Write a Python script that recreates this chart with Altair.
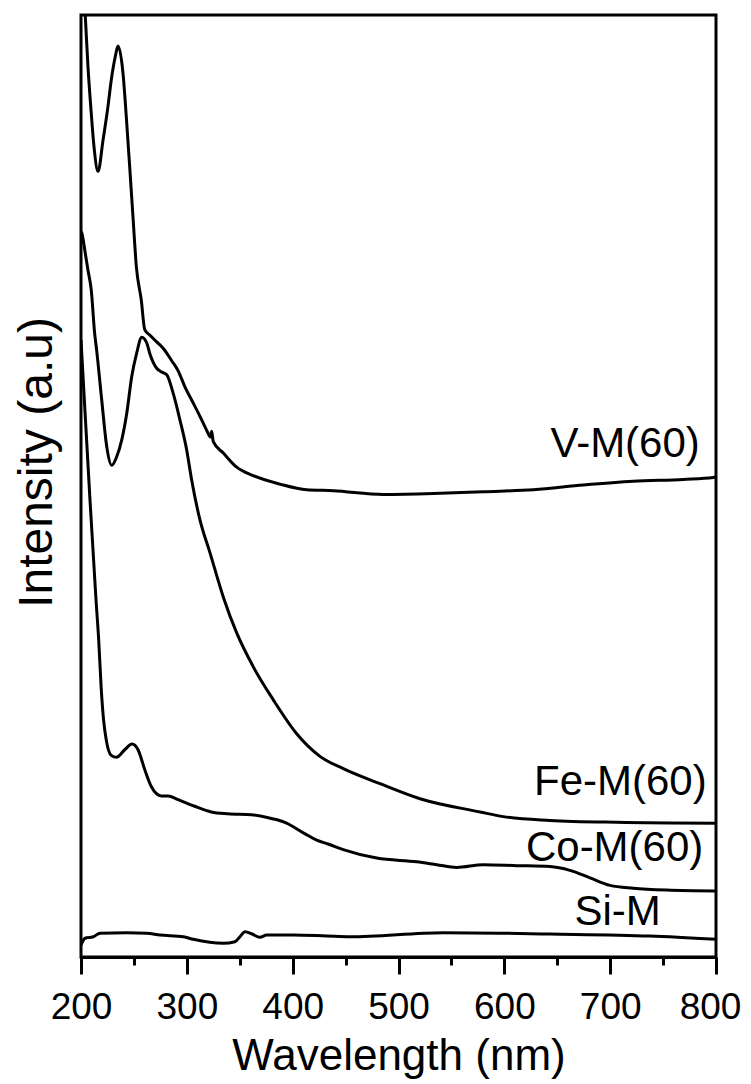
import altair as alt
import pandas as pd

# ---- data (wavelength nm, intensity a.u.) ----
v_x = [200, 204.1, 206.6, 209.2, 212.3, 216.1, 220.8, 225.5, 228.6, 232.4, 235.0, 239.7,
       242.8, 246.0, 249.1, 252.3, 257.0, 260.2, 265.2, 271.5, 277.8, 285.7, 291.9, 298.3,
       306.1, 312.4, 318.8, 322.4, 323.5, 325.0, 334.5, 347.1, 362.8, 388.0, 413.3, 438.4,
       485.6, 532.9, 580.1, 627.4, 674.6, 721.9, 769.1, 797.5, 800]
v_y = [108.3, 99.8, 94.5, 90.3, 86.0, 83.4, 86.7, 90.3, 93.1, 95.6, 96.7, 93.8,
       89.2, 83.9, 78.6, 73.3, 69.7, 66.6, 66.0, 65.3, 64.6, 63.3, 62.2, 60.5,
       58.8, 57.4, 55.9, 55.2, 55.8, 54.7, 53.5, 52.0, 51.1, 50.2, 49.6, 49.5,
       49.1, 49.2, 49.4, 49.6, 50.1, 50.5, 50.7, 50.9, 51.0]

fe_x = [200, 200.9, 203.5, 206.6, 209.7, 212.9, 214.8, 219.6, 224.3, 229.0, 233.7, 238.5,
        243.2, 247.9, 252.6, 257.4, 262.1, 264.9, 271.5, 276.2, 281.0, 287.2, 293.5, 299.9,
        304.6, 312.4, 321.9, 334.5, 347.1, 362.8, 381.7, 403.8, 425.8, 447.8, 482.5, 520.3,
        577.0, 599.0, 643.1, 706.2, 800]
fe_y = [77.0, 76.8, 75.1, 72.9, 70.8, 66.2, 64.4, 59.1, 54.2, 52.2, 53.1, 54.9,
        57.7, 61.6, 64.1, 65.8, 65.2, 64.1, 62.5, 62.1, 61.8, 59.8, 57.0, 53.8,
        50.6, 46.4, 42.9, 38.2, 34.4, 30.8, 27.3, 23.7, 21.3, 20.0, 18.4, 16.8,
        15.4, 14.9, 14.5, 14.3, 14.2]

co_x = [200, 200.7, 208.5, 214.2, 216.7, 219.2, 221.3, 223.9, 228.6, 233.4, 241.3, 248.2,
        253.9, 260.2, 266.4, 275.9, 282.2, 291.7, 307.4, 323.1, 338.9, 360.9, 379.8, 392.5,
        411.4, 422.7, 433.4, 447.8, 479.4, 517.2, 536.1, 555.0, 580.1, 611.7, 643.1, 662.0,
        680.9, 699.8, 721.9, 753.4, 800]
co_y = [65.5, 64.1, 48.5, 37.9, 33.7, 28.3, 25.2, 23.0, 21.4, 21.2, 22.0, 22.6,
        22.0, 19.9, 18.1, 17.1, 17.1, 16.7, 16.0, 15.4, 15.2, 15.1, 14.7, 14.3,
        13.1, 12.4, 12.0, 11.4, 10.5, 10.1, 9.8, 9.5, 9.8, 9.7, 9.6, 9.2,
        8.4, 7.6, 7.3, 7.1, 7.0]

si_x = [200, 200.7, 203.8, 211.6, 218.0, 243.2, 262.1, 274.6, 296.7, 306.1, 334.5, 345.5,
        350.2, 355.0, 361.6, 369.1, 375.5, 400.6, 432.2, 454.2, 542.3, 643.1, 737.6, 800]
si_y = [1.27, 1.45, 1.99, 2.15, 2.52, 2.58, 2.52, 2.34, 2.15, 1.88, 1.45, 1.62,
        2.15, 2.69, 2.44, 2.09, 2.34, 2.34, 2.23, 2.15, 2.58, 2.44, 2.23, 1.88]

series_names = ["V-M(60)", "Fe-M(60)", "Co-M(60)", "Si-M"]
label_x = [784.7, 791.2, 788.0, 747.8]
label_y = [53.1, 17.2, 10.2, 3.4]

x_ticks = list(range(200, 801, 50))

# ---- build tables ----
rows = []
for name, xs, ys in zip(series_names, [v_x, fe_x, co_x, si_x], [v_y, fe_y, co_y, si_y]):
    for a, b in zip(xs, ys):
        rows.append({"series": name, "wl": a, "inten": b})
df = pd.DataFrame(rows)
labels = pd.DataFrame({"name": series_names, "wl": label_x, "inten": label_y})

FONT = "Liberation Sans"

xscale = alt.Scale(domain=[200, 800], nice=False, zero=False)
yscale = alt.Scale(domain=[0, 100], nice=False, zero=False)

lines = alt.Chart(df).mark_line(color="black", strokeWidth=3, clip=True,
                                interpolate="monotone").encode(
    x=alt.X("wl:Q", scale=xscale,
            axis=alt.Axis(title="Wavelength (nm)", values=x_ticks,
                          labelExpr="datum.value % 100 === 0 ? datum.label : ''",
                          tickSize={"condition": {"test": "datum.value % 100 === 0", "value": 17}, "value": 8},
                          labelOffset={"condition": {"test": "datum.value === 800", "value": -6}, "value": 0},
                          tickWidth=3, tickColor="black", domainWidth=3, domainColor="black",
                          labelFont=FONT, labelFontSize=37, labelColor="black", labelPadding=15,
                          labelFlush=False, labelOverlap=False, labelBound=False,
                          titleFont=FONT, titleFontSize=44, titleFontWeight="normal",
                          titleColor="black", titlePadding=9, grid=False, format="d")),
    y=alt.Y("inten:Q", scale=yscale,
            axis=alt.Axis(title="Intensity (a.u)", ticks=False, labels=False, domain=False,
                          grid=False, titleFont=FONT, titleFontSize=48,
                          titleFontWeight="normal", titleColor="black", titlePadding=20,
                          titleY=447)),
    detail="series:N",
)

text = alt.Chart(labels).mark_text(font=FONT, fontSize=42, align="right",
                                   baseline="alphabetic", color="black").encode(
    x=alt.X("wl:Q", scale=xscale),
    y=alt.Y("inten:Q", scale=yscale),
    text="name:N",
)

chart = alt.layer(lines, text).properties(
    width=635, height=942,
    autosize=alt.AutoSizeParams(type="none"),
    padding={"left": 73, "top": 7, "right": 27, "bottom": 127},
).configure_view(stroke="black", strokeWidth=3)

chart.save("out.html", embed_options={"renderer": "svg", "actions": False})
